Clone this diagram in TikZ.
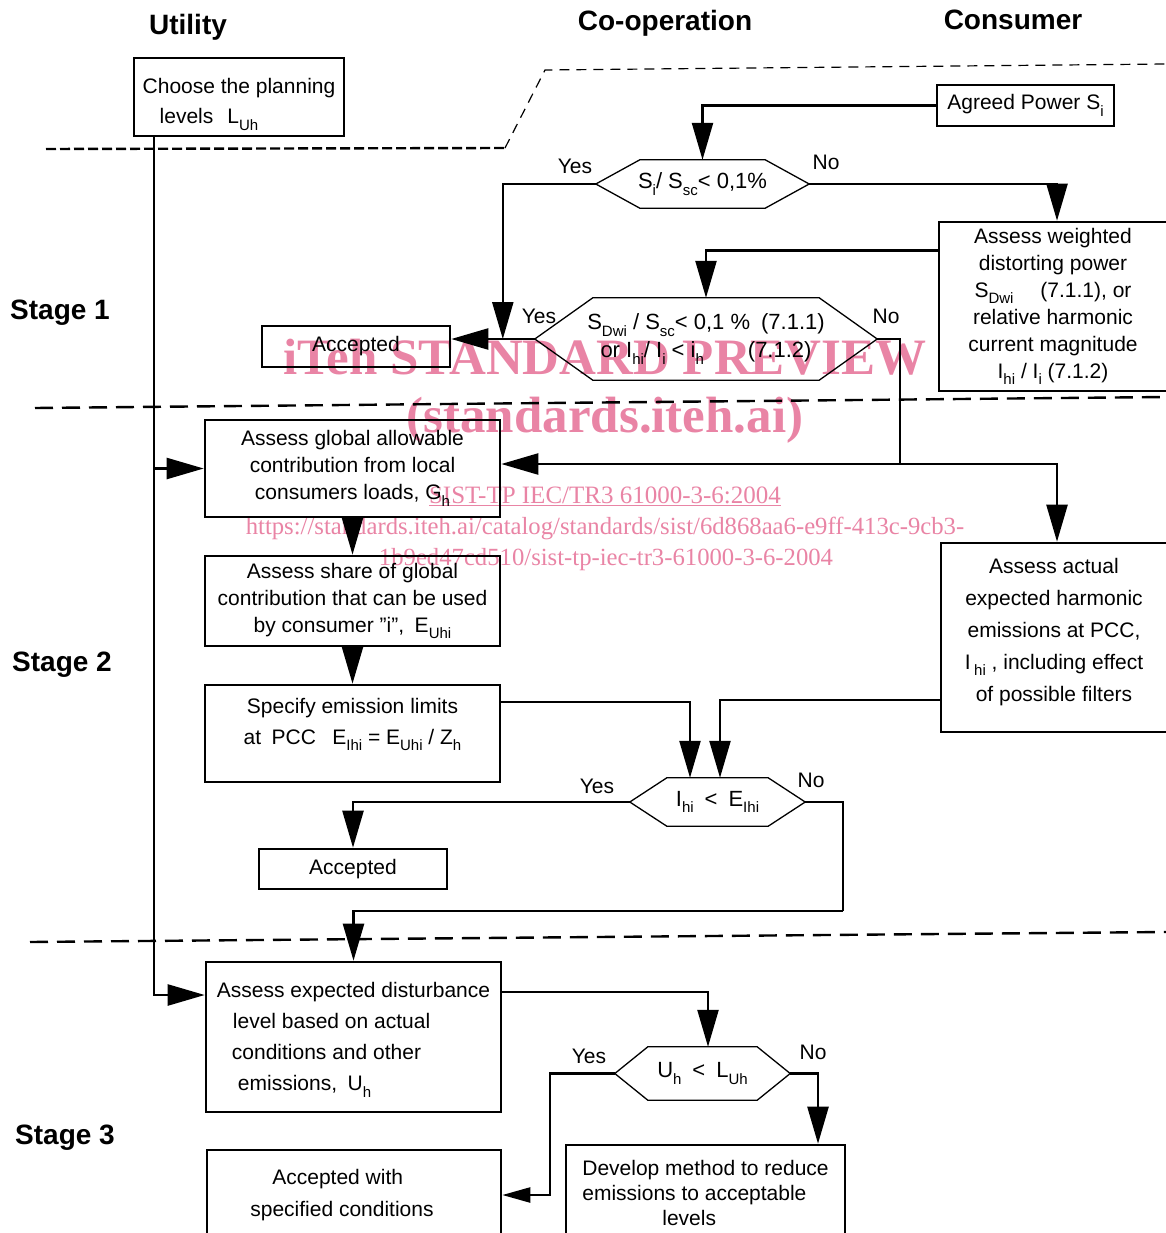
\documentclass[tikz,border=0pt]{standalone}
\usepackage{fontspec}
\setmainfont{Liberation Sans}
\newfontfamily\wmfont{Liberation Serif}
\usetikzlibrary{arrows.meta,calc}
\definecolor{wmpink}{RGB}{233,132,165}
\newcommand\sbs[1]{\raisebox{-0.3em}{\fontsize{15}{15}\selectfont #1}}
\newcommand\hexdraw[2]{\draw[hexline] (#1.west) -- ([xshift=#2]#1.north west) -- ([xshift=-#2]#1.north east) -- (#1.east) -- ([xshift=-#2]#1.south east) -- ([xshift=#2]#1.south west) -- cycle;}
\begin{document}
\begin{tikzpicture}[x=1pt,y=-1pt,
  box/.style={draw,line width=2.6pt,inner sep=0pt,align=center,font=\fontsize{21}{27}\selectfont},
  hexnode/.style={inner sep=0pt,align=center,font=\fontsize{22}{28}\selectfont},
  hexline/.style={line width=1.3pt,line join=miter},
  conn/.style={line width=2.4pt},
  arr/.style={conn,-{Triangle[length=37pt,width=21pt]}},
  arrsmall/.style={conn,-{Triangle[length=28pt,width=15pt]}},
  lbl/.style={font=\fontsize{21}{21}\selectfont,inner sep=0pt},
  ttl/.style={font=\fontsize{28}{28}\selectfont\bfseries,inner sep=0pt},
  stagedash/.style={line width=2.4pt,dash pattern=on 18pt off 9pt},
  wm/.style={text=wmpink,inner sep=0pt},
]
\useasboundingbox (0,0) rectangle (1166,1233);

% watermark
\node[wm,font=\wmfont\bfseries\fontsize{51}{51}\selectfont] (wm1) at (605,357) {iTeh STANDARD PREVIEW};
\node[wm,font=\wmfont\bfseries\fontsize{51}{51}\selectfont] (wm2) at (605,420) {(standards.iteh.ai)};
\node[wm,font=\wmfont\fontsize{25}{25}\selectfont] (wm3) at (605,496) {\underline{SIST-TP IEC/TR3 61000-3-6:2004}};
\node[wm,font=\wmfont\fontsize{24.7}{25}\selectfont] (wm4) at (605,528) {https://standards.iteh.ai/catalog/standards/sist/6d868aa6-e9ff-413c-9cb3-};
\node[wm,font=\wmfont\fontsize{24.7}{25}\selectfont] (wm5) at (606,560) {1b9ed47cd510/sist-tp-iec-tr3-61000-3-6-2004};

% titles
\node[ttl] (tu) at (188,27) {Utility};
\node[ttl] (tc) at (665,23) {Co-operation};
\node[ttl] (tk) at (1013,20) {Consumer};
\node[ttl] (s1) at (60,313) {Stage 1};
\node[ttl] (s2) at (62,665) {Stage 2};
\node[ttl] (s3) at (65,1138) {Stage 3};

% dashed separators
\draw[line width=2.4pt,dash pattern=on 10pt off 4pt] (46,149) -- (505,148);
\draw[line width=1.2pt,dash pattern=on 10pt off 7pt] (505,148) -- (545,70) -- (1166,64);
\draw[stagedash] (35,408) -- (1166,397);
\draw[stagedash] (30,942) -- (1166,932);

% boxes
\node[box,minimum width=210pt,minimum height=78pt,align=left,font=\fontsize{21}{30}\selectfont] (util) at (239,97) {\rule{0pt}{30pt}Choose the planning\\\hspace*{17pt}levels\hspace{14pt}L\sbs{Uh}};
\node[box,minimum width=177pt,minimum height=41pt] (ap) at (1025.5,105.5) {Agreed Power S\sbs{i}};
\node[box,minimum width=188pt,minimum height=41pt] (acc1) at (356,346.5) {Accepted};
\node[box,minimum width=228pt,minimum height=169pt] (wgt) at (1053,306.5) {Assess weighted\\distorting power\\S\sbs{Dwi}\quad\ (7.1.1), or\\relative harmonic\\current magnitude\\I\sbs{hi} / I\sbs{i} (7.1.2)};
\node[box,minimum width=295pt,minimum height=97pt] (glob) at (352.5,468.5) {Assess global allowable\\contribution from local\\consumers loads, G\sbs{h}};
\node[box,minimum width=295pt,minimum height=90pt] (share) at (352.5,601) {Assess share of global\\contribution that can be used\\by consumer "i",\enspace E\sbs{Uhi}};
\node[box,minimum width=295pt,minimum height=97pt,font=\fontsize{21}{31}\selectfont] (spec) at (352.5,733.5) {Specify emission limits\\at\enspace PCC\enspace\ E\sbs{Ihi} = E\sbs{Uhi} / Z\sbs{h}\\[-16pt]\strut};
\node[box,minimum width=226pt,minimum height=189pt,font=\fontsize{21}{32}\selectfont] (act) at (1054,637.5) {Assess actual\\expected harmonic\\emissions at PCC,\\I\,\sbs{hi} , including effect\\of possible filters\rule[-15pt]{0pt}{15pt}};
\node[box,minimum width=188pt,minimum height=40pt] (acc2) at (353,869) {Accepted};
\node[box,minimum width=295pt,minimum height=150pt,align=left,font=\fontsize{21}{31}\selectfont] (dist) at (353.5,1037) {\rule{0pt}{21pt}Assess expected disturbance\\\hspace*{16pt}level based on actual\\\hspace*{15pt}conditions and other\\\hspace*{21pt}emissions,\enspace U\sbs{h}};
\node[box,minimum width=294pt,minimum height=90pt,align=left,font=\fontsize{21}{32}\selectfont] (accw) at (354,1195) {\hspace*{22pt}Accepted with\\specified conditions\hspace*{24pt}};
\node[box,minimum width=279pt,minimum height=95pt,align=left,font=\fontsize{21}{25}\selectfont] (dev) at (705.5,1192.5) {Develop method to reduce\\emissions to acceptable\\\hspace*{80pt}levels};

% decision hexagons
\node[hexnode,minimum width=213pt,minimum height=48pt] (d1) at (702.5,184) {S\sbs{i}/ S\sbs{sc}< 0,1\%};
\hexdraw{d1}{44pt}
\node[hexnode,minimum width=342pt,minimum height=82pt] (d2) at (706,339) {S\sbs{Dwi} / S\sbs{sc}< 0,1 \%\enspace (7.1.1)\\or I\sbs{hi}/ I\sbs{i} < i\sbs{h}\qquad(7.1.2)};
\hexdraw{d2}{58pt}
\node[hexnode,minimum width=175pt,minimum height=48pt] (d3) at (717.5,802) {I\sbs{hi}\enspace<\enspace E\sbs{Ihi}};
\hexdraw{d3}{37pt}
\node[hexnode,minimum width=175pt,minimum height=53pt] (d4) at (702.5,1073.5) {U\sbs{h}\enspace<\enspace L\sbs{Uh}};
\hexdraw{d4}{33pt}

% Yes / No labels
\node[lbl] (y1) at (575,166) {Yes};
\node[lbl] (n1) at (826,162) {No};
\node[lbl] (y2) at (539,316) {Yes};
\node[lbl] (n2) at (886,316) {No};
\node[lbl] (y3) at (597,786) {Yes};
\node[lbl] (n3) at (811,780) {No};
\node[lbl] (y4) at (589,1056) {Yes};
\node[lbl] (n4) at (813,1052) {No};

% connectors
\coordinate (uv) at ([xshift=21pt]util.south west);
\draw[arr] (uv) |- ([yshift=42pt]dist.west);
\draw[arr] (uv |- glob.west) -- (glob.west);
\draw[arr] (ap.west) -| (d1.north);
\coordinate (j1) at ($(d2.west)+(-32,0)$);
\draw[arr] (d1.west) -| (j1);
\draw[arr] (d2.west) -- (d2.west -| acc1.east);
\draw[arr] (d1.east) -| ([xshift=4pt]wgt.north);
\draw[arr] ([yshift=56pt]wgt.west) -| (d2.north);
\coordinate (j2) at ($(d2.east)+(23,125)$);
\draw[conn] (d2.east) -| (j2);
\draw[arr] (j2) -- (j2 -| glob.east);
\draw[arr] (j2) -| ([xshift=3pt]act.north);
\draw[arr] (glob.south) -- (share.north);
\draw[arr] (share.south) -- (spec.north);
\draw[arr] ([yshift=31.5pt]spec.east) -| ([xshift=-27.5pt]d3.north);
\draw[arr] ([yshift=-62.5pt]act.west) -| ([xshift=2.5pt]d3.north);
\draw[arr] (d3.west) -| (acc2.north);
\coordinate (j3) at ($(d3.east)+(38,109)$);
\draw[conn] (d3.east) -| (j3);
\draw[arr] (j3) -| (dist.north);
\draw[arr] ([yshift=45pt]dist.east) -| ([xshift=5.5pt]d4.north);
\draw[arrsmall] (d4.west) -- ++(-65,0) |- (accw.east);
\draw[arr] (d4.east) -| ([xshift=112.5pt]dev.north);
\end{tikzpicture}
\end{document}
